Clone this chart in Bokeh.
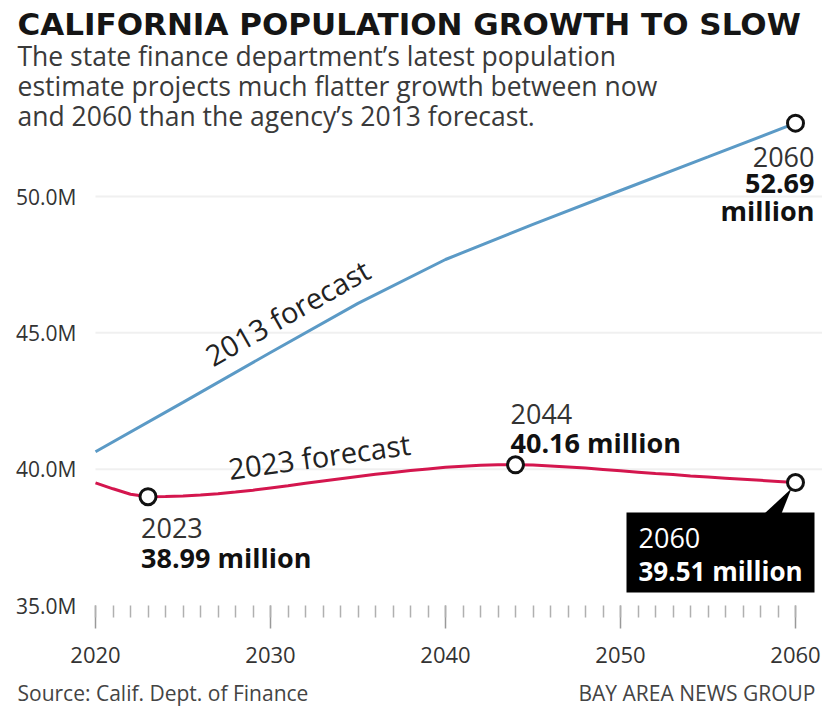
import math
from bokeh.plotting import figure
from bokeh.models import Label, FixedTicker, Range1d, LinearAxis
from bokeh.embed import file_html
from bokeh.resources import INLINE

# ---------------- data ----------------
years_2013 = [2020, 2025, 2030, 2035, 2040, 2045, 2050, 2055, 2060]
pop_2013 = [40.64, 42.45, 44.28, 46.08, 47.69, 48.98, 50.22, 51.45, 52.69]

years_2023 = list(range(2020, 2061))
pop_2023 = [39.50, 39.28, 39.08, 38.99, 39.00, 39.02, 39.05, 39.10, 39.16, 39.23,
            39.31, 39.39, 39.48, 39.57, 39.65, 39.73, 39.81, 39.88, 39.95, 40.01,
            40.07, 40.11, 40.14, 40.16, 40.16, 40.15, 40.12, 40.08, 40.04, 39.99,
            39.94, 39.89, 39.84, 39.80, 39.75, 39.71, 39.67, 39.63, 39.59, 39.55,
            39.51]

marker_years_2023 = [2023, 2044, 2060]
marker_vals_2023 = [38.99, 40.16, 39.51]
marker_years_2013 = [2060]
marker_vals_2013 = [52.69]

y_ticks = [35, 40, 45, 50]
y_tick_labels = ["35.0M", "40.0M", "45.0M", "50.0M"]
grid_ticks = [40, 45, 50]
x_ticks = [2020, 2030, 2040, 2050, 2060]
x_tick_labels = ["2020", "2030", "2040", "2050", "2060"]
x_minor = list(range(2020, 2061))

title_text = "CALIFORNIA POPULATION GROWTH TO SLOW"
subtitle_lines = ["The state finance department\u2019s latest population",
                  "estimate projects much flatter growth between now",
                  "and 2060 than the agency\u2019s 2013 forecast."]
source_text = "Source: Calif. Dept. of Finance"
credit_text = "BAY AREA NEWS GROUP"

# ---------------- layout (frame = whole canvas) ----------------
W, H = 822, 727
PX_X = 17.5               # pixels per year
PX_Y = 409 / 15           # pixels per million
X_2020_PX, Y_35_PX = 95, 605
X0 = 2020 - X_2020_PX / PX_X
X1 = 2020 + (W - X_2020_PX) / PX_X
Y1 = 35 + Y_35_PX / PX_Y
Y0 = 35 - (H - Y_35_PX) / PX_Y
SHIFT = 10                # text baseline correction (px)

def cx(px):
    return X0 + px / PX_X

def cy(py):
    return Y1 - py / PX_Y

FONT = "Open Sans"
BLUE = "#5b9ac6"
RED = "#d4164e"

p = figure(width=W, height=H, x_range=Range1d(X0, X1), y_range=Range1d(Y0, Y1),
           output_backend="svg", toolbar_location=None,
           x_axis_location=None, y_axis_location=None,
           min_border_left=0, min_border_right=0, min_border_top=0,
           min_border_bottom=0)
p.outline_line_color = None
p.background_fill_color = "white"
p.border_fill_color = "white"
p.xgrid.visible = False
p.ygrid.visible = False

yaxis = LinearAxis(fixed_location=cx(93), ticker=FixedTicker(ticks=y_ticks),
                   major_label_overrides=dict(zip(y_ticks, y_tick_labels)))
yaxis.axis_line_color = None
yaxis.major_tick_line_color = None
yaxis.minor_tick_line_color = None
yaxis.major_label_standoff = 11
yaxis.major_label_text_font = FONT
yaxis.major_label_text_font_size = "21px"
yaxis.major_label_text_color = "#333333"
p.add_layout(yaxis, "left")

xaxis = LinearAxis(fixed_location=35,
                   ticker=FixedTicker(ticks=x_ticks, minor_ticks=x_minor),
                   major_label_overrides=dict(zip(x_ticks, x_tick_labels)))
xaxis.axis_line_color = None
xaxis.major_tick_in = 0
xaxis.major_tick_out = 23
xaxis.minor_tick_in = 0
xaxis.minor_tick_out = 12
xaxis.major_tick_line_color = "#999999"
xaxis.minor_tick_line_color = "#b0b0b0"
xaxis.major_tick_line_width = 1.5
xaxis.minor_tick_line_width = 1.5
xaxis.major_label_standoff = 18
xaxis.major_label_text_font = FONT
xaxis.major_label_text_font_size = "22px"
xaxis.major_label_text_color = "#333333"
p.add_layout(xaxis, "below")

# faint horizontal grid lines
p.segment(x0=[x_ticks[0]] * len(grid_ticks), x1=[X1] * len(grid_ticks),
          y0=grid_ticks, y1=grid_ticks, line_color="#f0f0f0", line_width=2)

# ---------------- lines & markers ----------------
p.line(years_2013, pop_2013, line_color=BLUE, line_width=3)
p.line(years_2023, pop_2023, line_color=RED, line_width=3)

# callout box for 2060 (2023 forecast)
bx, by = marker_years_2023[2], marker_vals_2023[2]
p.quad(left=[bx - 169 / PX_X], right=[bx + 19 / PX_X],
       top=[by - 30 / PX_Y], bottom=[by - 110 / PX_Y],
       fill_color="black", line_color=None)
p.patch([bx - 31 / PX_X, bx - 14 / PX_X, bx - 4 / PX_X],
        [by - 31 / PX_Y, by - 31 / PX_Y, by - 6 / PX_Y],
        fill_color="black", line_color=None)

p.scatter(marker_years_2013, marker_vals_2013, size=16, fill_color="white",
          line_color="#111111", line_width=3)
p.scatter(marker_years_2023, marker_vals_2023, size=16, fill_color="white",
          line_color="#111111", line_width=3)

# ---------------- texts ----------------
def lab(x, y, text, size="27px", bold=False, color="#222222", align="left",
        xo=0, yo=0, angle=0.0, font=FONT):
    p.add_layout(Label(x=x, y=y, text=text, x_offset=xo, y_offset=yo,
                       text_font=font, text_font_size=size,
                       text_font_style="bold" if bold else "normal",
                       text_color=color, text_align=align,
                       text_baseline="alphabetic", angle=angle))

lab(cx(17), cy(33.5 - SHIFT), title_text, size="31px", bold=True,
    color="#151515", font="DejaVu Sans")
for i, line in enumerate(subtitle_lines):
    lab(cx(17), cy(65 + 30 * i - SHIFT), line, size="26.5px", color="#3a3a3a")

lab(cx(17), cy(702 - SHIFT), source_text, size="21px", color="#444444")
lab(cx(815), cy(702 - SHIFT), credit_text, size="21px", color="#444444",
    align="right")

# 2013 forecast end label
tx, ty = marker_years_2013[0], marker_vals_2013[0]
lab(tx, ty, "2060", xo=19, yo=-44 + SHIFT, align="right", color="#333333")
lab(tx, ty, "52.69", xo=19, yo=-70 + SHIFT, align="right", bold=True,
    color="#111111")
lab(tx, ty, "million", xo=19, yo=-97 + SHIFT, align="right", bold=True,
    color="#111111")

# 2044 peak
tx, ty = marker_years_2023[1], marker_vals_2023[1]
lab(tx, ty, "2044", xo=-5, yo=41 + SHIFT, color="#333333")
lab(tx, ty, "40.16 million", xo=-5, yo=12 + SHIFT, bold=True, color="#111111")

# 2023 low
tx, ty = marker_years_2023[0], marker_vals_2023[0]
lab(tx, ty, "2023", xo=-7, yo=-41 + SHIFT, color="#333333")
lab(tx, ty, "38.99 million", xo=-7, yo=-71 + SHIFT, bold=True, color="#111111")

# 2060 box text
lab(bx, by, "2060", xo=-157, yo=-65 + SHIFT, color="white")
lab(bx, by, "39.51 million", xo=-157, yo=-98 + SHIFT, size="26px", bold=True,
    color="white")

# series labels along lines
lab(cx(207), cy(357), "2013 forecast", size="29px", color="#222222",
    angle=math.radians(29.5))
lab(cx(228), cy(468), "2023 forecast", size="29px", color="#222222",
    angle=math.radians(7.9))

open("out.html", "w").write(file_html(p, INLINE))
